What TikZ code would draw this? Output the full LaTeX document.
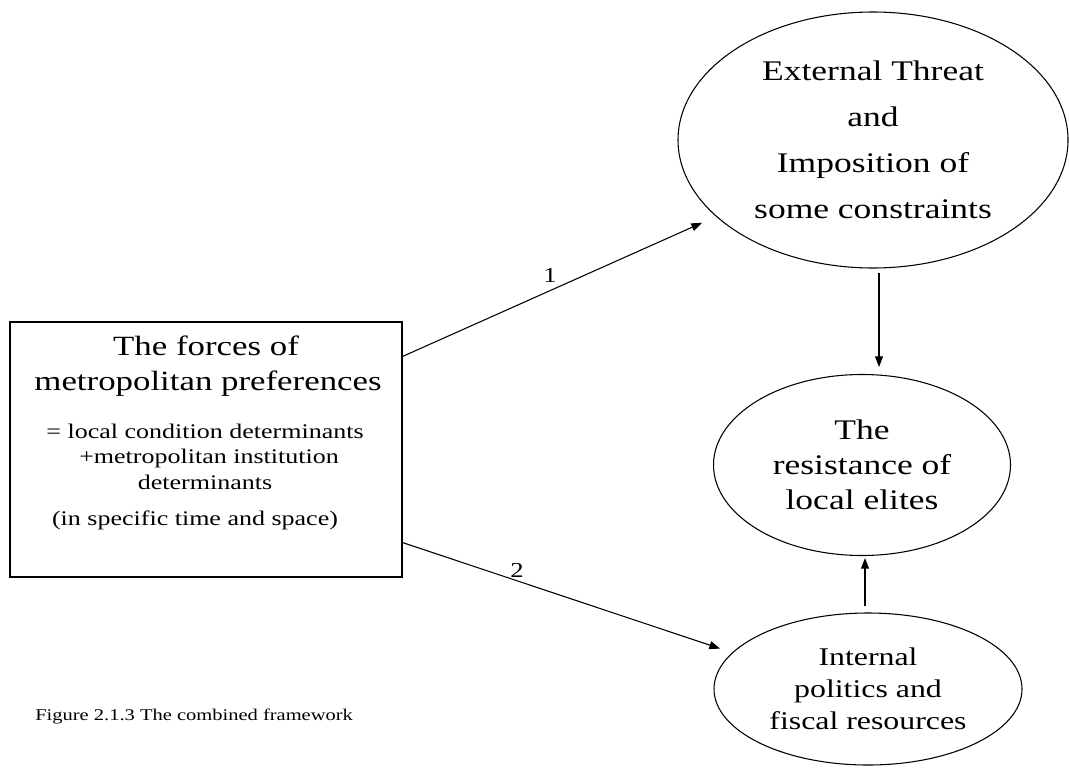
\documentclass[tikz,border=0pt]{standalone}
\usepackage{fontspec}
\setmainfont{Liberation Serif}[FakeStretch=1.25]
\usetikzlibrary{shapes.geometric,arrows.meta}
\begin{document}
\begin{tikzpicture}[x=0.75pt,y=-0.75pt,
  ov/.style={draw,ellipse,line width=0.8pt,inner sep=0pt,align=center},
  frame/.style={draw,rectangle,line width=0.8pt,inner sep=0pt},
  arr/.style={-{Triangle[length=8pt,width=6pt]},line width=0.8pt},
  lbl/.style={font=\fontsize{16}{19}\selectfont},
  ttl/.style={anchor=base,inner sep=0pt,font=\fontsize{20.9}{26}\selectfont},
  sub/.style={anchor=base,inner sep=0pt,font=\fontsize{15.6}{19}\selectfont},
  ]
\useasboundingbox (0,0) rectangle (1069,767);
% box
\node[frame,minimum width=294pt,minimum height=191.25pt] (box) at (206,449.5) {};
\node[ttl] (t1) at (206,355) {The forces of};
\node[ttl] (t2) at (208,390) {metropolitan preferences};
\node[sub] (s1) at (205,438) {= local condition determinants};
\node[sub] (s2) at (209,463) {+metropolitan institution};
\node[sub] (s3) at (205,489) {determinants};
\node[sub] (s4) at (195,525) {(in specific time and space)};
% ellipses
\node[ov,minimum width=292.5pt,minimum height=192pt,font=\fontsize{21.3}{34.5}\selectfont] (ext) at (873,140)
  {External Threat\\and\\Imposition of\\some constraints};
\node[ov,minimum width=222.75pt,minimum height=135.75pt,font=\fontsize{21.3}{26.25}\selectfont] (res) at (862,465)
  {The\\resistance of\\local elites};
\node[ov,minimum width=231pt,minimum height=114pt,font=\fontsize{19.1}{24}\selectfont] (int) at (868,689)
  {Internal\\politics and\\fiscal resources};
% connectors
\draw[arr,shorten >=11.5pt] ([yshift=-26.25pt]box.north east) -- (ext.206);
\draw[arr,shorten >=9.5pt] ([yshift=26.25pt]box.south east) -- (int.165);
\coordinate (v1) at ([xshift=4.5pt,yshift=-3pt]ext.south);
\draw[arr,shorten >=5.25pt] (v1) -- (v1 |- res.north);
\coordinate (v2) at ([xshift=-2.25pt,yshift=4.5pt]int.north);
\draw[arr,shorten >=1.5pt] (v2) -- (v2 |- res.south);
% labels
\node[lbl] (n1) at (550,275) {1};
\node[lbl] (n2) at (517,570) {2};
% caption
\node[anchor=base west,inner sep=0pt,font=\fontsize{12.3}{15}\selectfont] (cap) at (35,720) {Figure 2.1.3 The combined framework};
\end{tikzpicture}
\end{document}
